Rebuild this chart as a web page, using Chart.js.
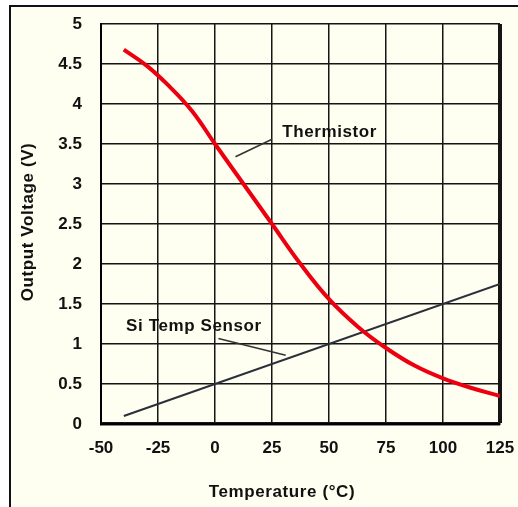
<!DOCTYPE html>
<html>
<head>
<meta charset="utf-8">
<script src="https://cdn.jsdelivr.net/npm/chart.js"></script>
<style>
  body { margin: 0; background: #fff; }
  #wrap { width: 518px; height: 507px; }
</style>
</head>
<body>
<div id="wrap"><canvas id="chart" width="518" height="507"></canvas></div>

<script>
// temperature in deg C, output in volts
const thermTemps = [-40, -30, -20, -10, 0, 12.5, 25, 37.5, 50, 62.5, 75, 87.5, 100, 112.5, 125];
const thermVolts = [4.68, 4.48, 4.22, 3.91, 3.5, 3.0, 2.5, 2.0, 1.56, 1.22, 0.95, 0.73, 0.57, 0.45, 0.35];

const siTemps = [-40, 125];
const siVolts = [0.1, 1.75];

// leader lines for the two curve labels
const thermLeaderTemps = [9, 25];
const thermLeaderVolts = [3.34, 3.56];
const siLeaderTemps = [1.5, 31];
const siLeaderVolts = [1.07, 0.86];

const xTicks = [-50, -25, 0, 25, 50, 75, 100, 125];
const yTicks = [0, 0.5, 1, 1.5, 2, 2.5, 3, 3.5, 4, 4.5, 5];

const FONT = '"Liberation Sans", Arial, sans-serif';
const TEXT_FONT = 'bold 17px ' + FONT;

function pts(xs, ys) {
  return xs.map((x, i) => ({ x: x, y: ys[i] }));
}

// frame, cream background, axis titles and curve labels
const paperPlugin = {
  id: 'paper',
  beforeDraw(chart) {
    const ctx = chart.ctx;
    ctx.save();
    ctx.fillStyle = '#ffffff';
    ctx.fillRect(0, 0, chart.width, chart.height);
    ctx.fillStyle = '#fefef1';
    ctx.fillRect(12, 8, chart.width - 12, chart.height - 8);
    ctx.strokeStyle = '#111';
    ctx.lineWidth = 2;
    ctx.beginPath();
    ctx.moveTo(10, chart.height);
    ctx.lineTo(10, 6);
    ctx.lineTo(chart.width, 6);
    ctx.stroke();
    ctx.restore();
  },
  afterDraw(chart) {
    const ctx = chart.ctx;
    const xs = chart.scales.x, ys = chart.scales.y;
    ctx.save();
    ctx.fillStyle = '#111';
    ctx.font = TEXT_FONT;
    ctx.letterSpacing = '0.6px';
    ctx.textBaseline = 'middle';
    ctx.textAlign = 'left';
    ctx.fillText('Thermistor', xs.getPixelForValue(29.5), ys.getPixelForValue(3.64));
    ctx.fillText('Si Temp Sensor', xs.getPixelForValue(-39), ys.getPixelForValue(1.225));
    ctx.textAlign = 'center';
    ctx.fillText('Temperature (°C)', 282, 492);
    ctx.translate(28, (chart.chartArea.top + chart.chartArea.bottom) / 2 - 2);
    ctx.rotate(-Math.PI / 2);
    ctx.fillText('Output Voltage (V)', 0, 0);
    ctx.restore();
  }
};

new Chart(document.getElementById('chart'), {
  type: 'line',
  data: {
    datasets: [
      {
        label: 'Thermistor',
        data: pts(thermTemps, thermVolts),
        borderColor: '#ec0010',
        borderWidth: 4,
        pointRadius: 0,
        tension: 0.4
      },
      {
        label: 'Si Temp Sensor',
        data: pts(siTemps, siVolts),
        borderColor: '#2a2f3a',
        borderWidth: 2,
        pointRadius: 0
      },
      {
        label: 'thermLeader',
        data: pts(thermLeaderTemps, thermLeaderVolts),
        borderColor: '#333',
        borderWidth: 1.5,
        pointRadius: 0
      },
      {
        label: 'siLeader',
        data: pts(siLeaderTemps, siLeaderVolts),
        borderColor: '#333',
        borderWidth: 1.5,
        pointRadius: 0
      }
    ]
  },
  options: {
    responsive: false,
    animation: false,
    layout: { padding: { top: 24, right: 18, left: 9, bottom: 0 } },
    plugins: {
      legend: { display: false },
      tooltip: { enabled: false }
    },
    scales: {
      x: {
        type: 'linear',
        min: -50,
        max: 125,
        afterFit(scale) {
          scale.height = 83;
          scale.paddingLeft = 0;
          scale.paddingRight = 0;
        },
        afterBuildTicks(scale) { scale.ticks = xTicks.map(v => ({ value: v })); },
        grid: {
          color: '#151515',
          lineWidth: ctx => (ctx.tick && ctx.tick.value === 125 ? 4 : 1.5),
          drawTicks: false
        },
        border: { color: '#000', width: 2 },
        ticks: {
          color: '#111',
          padding: 14,
          maxRotation: 0,
          callback: v => String(v),
          font: { family: FONT, size: 17, weight: 'bold' }
        }
      },
      y: {
        min: 0,
        max: 5,
        afterFit(scale) {
          scale.width = 92;
          scale.paddingTop = 0;
          scale.paddingBottom = 0;
        },
        afterBuildTicks(scale) { scale.ticks = yTicks.map(v => ({ value: v })); },
        grid: {
          color: '#151515',
          lineWidth: ctx => (ctx.tick && ctx.tick.value === 0 ? 3.5 : 1.5),
          drawTicks: false
        },
        border: { color: '#000', width: 2 },
        ticks: {
          color: '#111',
          padding: 19,
          callback: v => String(v),
          font: { family: FONT, size: 17, weight: 'bold' }
        }
      }
    }
  },
  plugins: [paperPlugin]
});
</script>
</body>
</html>
